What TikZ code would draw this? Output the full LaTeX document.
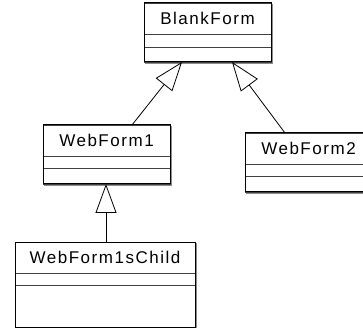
\documentclass[tikz,border=0pt]{standalone}
\usepackage{fontspec}
\setmainfont{Liberation Sans}[LetterSpace=9]
\usetikzlibrary{arrows.meta,calc}

\tikzset{
  part/.style={draw=black!75, line width=0.6pt, inner sep=0pt, outer sep=0pt,
    anchor=north west, font=\fontsize{17}{20}\selectfont},
  outline/.style={draw=black, line width=1pt},
  shadowline/.style={draw=black!45, line width=0.8pt},
  inherit/.style={draw=black, line width=0.8pt,
    -{Triangle[open, length=29pt, width=21pt, fill=white]}},
}

% one UML class: name, attribute and operation compartments
\newcommand{\umlclass}[7]{%
  % #1 id, #2 x, #3 y, #4 width, #5 name, #6 attr height, #7 ops height
  \node[part, minimum width=#4pt, minimum height=31pt] (#1) at (#2,#3) {#5};
  \node[part, minimum width=#4pt, minimum height=#6pt] (#1a) at (#1.south west) {};
  \node[part, minimum width=#4pt, minimum height=#7pt] (#1o) at (#1a.south west) {};
  \draw[shadowline] ($(#1.north east)+(1pt,-1pt)$) -- ($(#1o.south east)+(1pt,-1pt)$)
    -- ($(#1o.south west)+(1pt,-1pt)$);
  \draw[outline] (#1.north west) rectangle (#1o.south east);
}

\begin{document}
\begin{tikzpicture}[x=1pt, y=-1pt]
  \useasboundingbox (0,0) rectangle (363,328);
  \clip (0,0) rectangle (363,328);

  \umlclass{blank}{144}{3}{127}{BlankForm}{13}{15}
  \umlclass{wfone}{43}{125}{127}{WebForm1}{12}{16}
  \umlclass{wftwo}{245}{133}{127}{WebForm2}{12}{16}
  \umlclass{child}{15}{242}{180}{WebForm1sChild}{12}{42}

  % generalisations
  \draw[inherit] ($(wfone.north west)+(89,0)$) -- ($(blank.north west)+(38,59)$);
  \draw[inherit] ($(wftwo.north west)+(40,0)$) -- ($(blank.north west)+(88,59)$);
  \draw[inherit] ($(child.north west)+(91,0)$) -- ($(wfone.north west)+(63,59)$);
\end{tikzpicture}
\end{document}
